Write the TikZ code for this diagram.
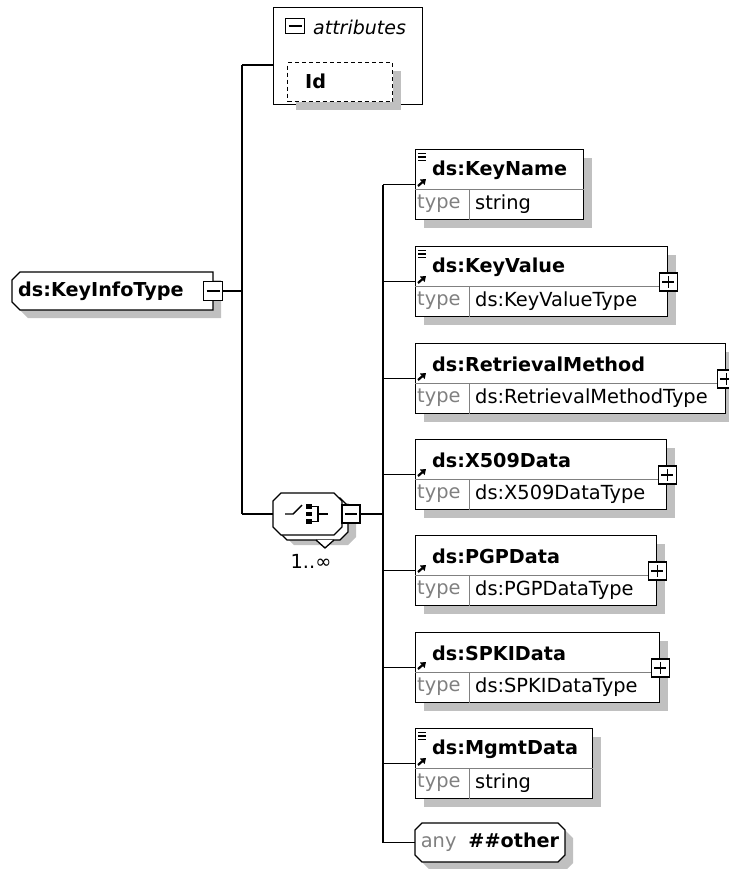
\documentclass[tikz,border=0pt]{standalone}
\usepackage{fontspec}
\setmainfont{DejaVu Sans}
\usetikzlibrary{shadows,arrows.meta}

\definecolor{shadowgray}{RGB}{192,192,192}
\definecolor{typegray}{RGB}{128,128,128}
\definecolor{rulegray}{RGB}{128,128,128}

\tikzset{
  conn/.style={draw=black, line width=1.3pt},
  shadowed/.style={general shadow={fill=shadowgray, shadow xshift=8pt, shadow yshift=-8pt}},
  elembox/.style={rectangle, draw=black, fill=white, line width=1.3pt, anchor=north west,
    minimum height=70pt, inner sep=0pt, shadowed},
  rule/.style={draw=rulegray, line width=1pt},
  namefont/.style={font=\fontsize{19.2}{22}\selectfont\bfseries},
  plainfont/.style={font=\fontsize{19.4}{22}\selectfont},
  typelabel/.style={plainfont, text=typegray, anchor=west, inner sep=0pt},
  typevalue/.style={plainfont, anchor=west, inner sep=0pt},
  ctrlbox/.style={rectangle, draw=black, fill=white, line width=1.2pt,
    minimum width=18pt, minimum height=18pt, inner sep=0pt},
  minusbox/.style={ctrlbox, path picture={
    \draw[line width=1.2pt] ([xshift=3pt]path picture bounding box.west) -- ([xshift=-3pt]path picture bounding box.east);}},
  plusbox/.style={ctrlbox, path picture={
    \draw[line width=1.2pt] ([xshift=3pt]path picture bounding box.west) -- ([xshift=-3pt]path picture bounding box.east);
    \draw[line width=1.2pt] ([yshift=-3pt]path picture bounding box.north) -- ([yshift=3pt]path picture bounding box.south);}},
  refarrow/.style={line width=2.2pt, -{Triangle[length=5pt,width=7pt]}},
  outline/.style={draw=black, fill=white, line width=1.3pt},
  shadowfill/.style={fill=shadowgray},
  anchorbox/.style={rectangle, inner sep=0pt},
}

% octagon outline: x1, y1, x2, y2, chamfer
\newcommand\octpath[5]{(#1+#5,#2) -- (#3-#5,#2) -- (#3,#2+#5) -- (#3,#4-#5) -- (#3-#5,#4)
  -- (#1+#5,#4) -- (#1,#4-#5) -- (#1,#2+#5) -- cycle}

% element box: name, top, width, title, type
\newcommand\xsdelement[5]{%
  \node[elembox, minimum width=#3pt] (#1) at (415,#2) {};
  \draw[rule] ([yshift=-40pt]#1.north west) -- ([yshift=-40pt]#1.north east);
  \draw[rule] ([xshift=54pt,yshift=-40pt]#1.north west) -- ([xshift=54pt]#1.south west);
  \node[namefont, anchor=west, inner sep=0pt] (#1-name) at ([xshift=17pt,yshift=-21pt]#1.north west) {#4};
  \node[typelabel] (#1-type) at ([xshift=2pt,yshift=-55pt]#1.north west) {type};
  \node[typevalue] (#1-value) at ([xshift=60pt,yshift=-55pt]#1.north west) {#5};
  \draw[refarrow] ([xshift=3pt,yshift=-37pt]#1.north west) -- ++(8pt,7pt);
}
% documentation marker in the upper left corner of an element box
\newcommand\docmark[1]{%
  \foreach \dy in {4.5,8,11.5}{%
    \draw[line width=1.4pt] ([xshift=3pt,yshift=-\dy pt]#1.north west) -- ++(8pt,0pt);}%
}
% expand button on the right edge of an element box
\newcommand\expander[1]{%
  \node[plusbox] (#1-exp) at ([yshift=-36pt]#1.north east) {};
}

\begin{document}
\begin{tikzpicture}[x=1pt,y=-1pt]
\useasboundingbox (0,0) rectangle (728,869);

% ---------- complex type ----------
\path[shadowfill] (28,280) -- (221,280) -- (221,318) -- (28,318) -- (20,310) -- (20,288) -- cycle;
\draw[outline] (20,272) -- (213,272) -- (213,310) -- (20,310) -- (12,302) -- (12,280) -- cycle;
\node[anchorbox, minimum width=201pt, minimum height=38pt] (kit) at (112.5,291) {};
\node[namefont, anchor=west, inner sep=0pt] (kit-label) at (18,291) {ds:KeyInfoType};
\node[minusbox, minimum size=19pt] (kit-exp) at (213,291) {};

% ---------- attributes ----------
\node[rectangle, draw=black, line width=1.2pt, anchor=north west,
  minimum width=149pt, minimum height=97pt, inner sep=0pt] (attrs) at (273,7) {};
\node[minusbox, minimum width=19pt, minimum height=15pt] (attrs-exp) at (295,26) {};
\node[font=\fontsize{19}{22}\selectfont\itshape, anchor=west, inner sep=0pt]
  (attrs-title) at (313,27) {attributes};
\node[rectangle, draw=black, fill=white, dash pattern=on 4pt off 3pt, line width=1.3pt,
  anchor=north west, minimum width=105pt, minimum height=39pt, inner sep=0pt, shadowed]
  (idattr) at (287,62) {};
\node[namefont, anchor=west, inner sep=0pt] (idattr-label) at (305,81) {Id};

% ---------- choice compositor ----------
\path[shadowfill] \octpath{286}{503}{356}{545}{8};
\draw[outline] \octpath{279}{498}{348}{540}{8};
\draw[outline, fill=white] (316,540) -- (325,548) -- (334,540);
\draw[outline] \octpath{273}{493}{342}{535}{8};
\node[anchorbox, minimum width=69pt, minimum height=42pt] (choice) at (307.5,514) {};
\node[minusbox] (choice-exp) at (351,514) {};
% switch symbol
\draw[line width=1.4pt] (285,514) -- (293,514) -- (302,505);
\foreach \sy in {506.5,514,521.5}{\fill (306,\sy-2.3) rectangle (311.5,\sy+2.3);}
\draw[line width=1.3pt] (311,506.5) -- (318,506.5) -- (318,521.5) -- (311,521.5);
\draw[line width=1.3pt] (318,514) -- (328,514);
\node[plainfont, inner sep=0pt] (choice-occ) at (311,561) {1..∞};

% ---------- elements ----------
\xsdelement{keyname}{149}{168}{ds:KeyName}{string}
\docmark{keyname}
\xsdelement{keyvalue}{246}{252}{ds:KeyValue}{ds:KeyValueType}
\docmark{keyvalue}
\expander{keyvalue}
\xsdelement{retrieval}{343}{310}{ds:RetrievalMethod}{ds:RetrievalMethodType}
\expander{retrieval}
\xsdelement{x509}{439}{251}{ds:X509Data}{ds:X509DataType}
\expander{x509}
\xsdelement{pgp}{535}{241}{ds:PGPData}{ds:PGPDataType}
\expander{pgp}
\xsdelement{spki}{632}{244}{ds:SPKIData}{ds:SPKIDataType}
\expander{spki}
\xsdelement{mgmt}{728}{177}{ds:MgmtData}{string}
\docmark{mgmt}

% ---------- wildcard ----------
\path[shadowfill] \octpath{423}{831}{573}{870}{7};
\draw[outline] \octpath{415}{823}{565}{862}{7};
\node[anchorbox, minimum width=150pt, minimum height=39pt] (anyother) at (490,842.5)
  {\fontsize{19.4}{22}\selectfont\textcolor{typegray}{any}\hspace{12pt}{\bfseries\fontsize{19.2}{22}\selectfont \#\#other}};

% ---------- connectors ----------
\coordinate (trunkA) at (242,65);
\coordinate (trunkB) at (383,184);
\draw[conn] (kit-exp.east) -- (kit-exp.east -| trunkA);
\draw[conn] (trunkA) -- (choice.west -| trunkA);
\draw[conn] (trunkA) -- (trunkA -| attrs.west);
\draw[conn] (choice.west -| trunkA) -- (choice.west);
\draw[conn] (choice-exp.east) -- (choice-exp.east -| trunkB);
\draw[conn] (keyname.west -| trunkB) -- (anyother.west -| trunkB);
\foreach \e in {keyname,keyvalue,retrieval,x509,pgp,spki,mgmt,anyother}{
  \draw[conn] (\e.west -| trunkB) -- (\e.west);
}
\end{tikzpicture}
\end{document}
